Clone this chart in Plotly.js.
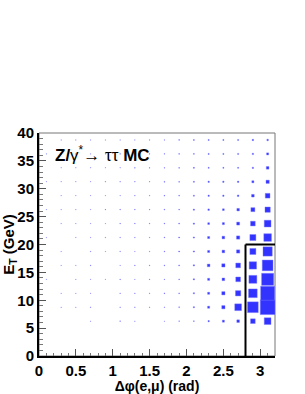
<!DOCTYPE html>
<html><head><meta charset="utf-8">
<script src="https://cdn.plot.ly/plotly-3.0.1.min.js"></script>
<style>html,body{margin:0;padding:0;background:#fff;}#chart{width:305px;height:394px;}</style>
</head><body><div id="chart"></div>
<script>
// Bin centres
const phiCenters = [0.1,0.3,0.5,0.7,0.9,1.1,1.3,1.5,1.7,1.9,2.1,2.3,2.5,2.7,2.9,3.1];
const etCenters = [1.25,3.75,6.25,8.75,11.25,13.75,16.25,18.75,21.25,23.75,26.25,28.75,31.25,33.75,36.25,38.75];
// Relative cell contents, one row per E_T bin (bottom to top), columns follow phiCenters
const counts = [
  [0,0,0,0,0,0,0,0,0,0,0,0,0,0,0,0],
  [0,0,0,0,0,0,0,0,0,0,0,0,0,0,0,0],
  [0,0,0,3,0,4,3,0,3,4,5,9,14,18,32,46],
  [0,3,3,4,0,4,4,4,4,5,8,14,22,46,73,100],
  [0,3,3,3,0,4,4,4,5,5,8,14,22,36,59,95],
  [3,0,3,3,3,4,3,4,4,5,8,14,18,32,54,82],
  [0,3,3,4,0,3,4,4,5,6,8,18,22,32,50,73],
  [0,3,0,4,3,4,3,4,5,6,8,14,18,22,41,63],
  [3,0,3,3,4,4,4,4,5,6,8,14,18,22,41,52],
  [0,3,3,3,3,4,4,4,5,6,8,12,14,20,32,46],
  [3,3,3,3,4,4,4,4,5,5,8,10,12,17,27,36],
  [0,3,3,3,3,3,4,4,5,5,7,9,9,10,18,32],
  [3,3,3,3,4,4,4,4,5,5,7,9,9,9,14,22],
  [0,3,3,3,3,3,4,4,4,5,7,7,7,7,9,18],
  [3,3,3,3,3,4,4,4,4,5,6,7,7,7,9,14],
  [0,3,3,3,3,3,3,4,4,5,6,7,7,7,9,10]
];
const xTicks = [0,0.5,1,1.5,2,2.5,3];
const xTickText = ['0','0.5','1','1.5','2','2.5','3'];
const yTicks = [0,5,10,15,20,25,30,35,40];
const yTickText = ['0','5','10','15','20','25','30','35','40'];
const cutPhi = 2.8, cutEt = 20;

const xs = [], ys = [], ss = [];
for (let j = 0; j < etCenters.length; j++) {
  for (let i = 0; i < phiCenters.length; i++) {
    const v = counts[j][i];
    if (v > 0) { xs.push(phiCenters[i]); ys.push(etCenters[j]); ss.push(v); }
  }
}

const font = {family: 'Liberation Sans, Arial, sans-serif', color: '#000'};
const trace = {
  type: 'scatter', mode: 'markers', x: xs, y: ys,
  marker: {symbol: 'square', size: ss, sizemode: 'diameter', sizeref: 6.8, sizemin: 0, opacity: 1,
           color: '#3333ff', line: {width: 0.6, color: 'rgba(120,120,255,0.7)'}},
  hoverinfo: 'skip'
};
const layout = {
  width: 305, height: 394,
  margin: {l: 39, r: 29.5, t: 133, b: 38},
  paper_bgcolor: '#fff', plot_bgcolor: '#fff',
  showlegend: false,
  font: font,
  xaxis: {
    range: [0, 3.2], tickvals: xTicks, ticktext: xTickText,
    ticks: 'inside', ticklen: 7, tickwidth: 1, tickcolor: '#555',
    minor: {ticks: 'inside', dtick: 0.1, ticklen: 3.5, tickwidth: 1, tickcolor: '#777', showgrid: false},
    showgrid: false, zeroline: false,
    showline: true, linecolor: '#000', linewidth: 2,
    tickfont: {family: font.family, size: 15, weight: 'bold', color: '#000'},
    title: {text: 'Δφ(e,μ) (rad)', font: {family: font.family, size: 14, weight: 'bold', color: '#000'}, standoff: 1}
  },
  yaxis: {
    range: [0, 40], tickvals: yTicks, ticktext: yTickText,
    ticks: 'inside', ticklen: 7, tickwidth: 1, tickcolor: '#555',
    minor: {ticks: 'inside', dtick: 1, ticklen: 3.5, tickwidth: 1, tickcolor: '#777', showgrid: false},
    showgrid: false, zeroline: false,
    showline: true, linecolor: '#000', linewidth: 2,
    tickfont: {family: font.family, size: 15, weight: 'bold', color: '#000'},
    title: {text: 'E<sub>T</sub> (GeV)', font: {family: font.family, size: 15, weight: 'bold', color: '#000'}, standoff: 3}
  },
  shapes: [
    {type: 'rect', xref: 'paper', yref: 'paper', x0: 0, x1: 1, y0: 0, y1: 1,
     line: {color: '#777', width: 1}, layer: 'below'},
    {type: 'line', xref: 'x', yref: 'y', x0: cutPhi, x1: cutPhi, y0: 0, y1: cutEt,
     line: {color: '#000', width: 2}},
    {type: 'line', xref: 'x', yref: 'y', x0: cutPhi, x1: 3.2, y0: cutEt, y1: cutEt,
     line: {color: '#000', width: 2}}
  ],
  annotations: [{
    xref: 'paper', yref: 'paper', x: 0.06, y: 0.905, xanchor: 'left', yanchor: 'middle',
    showarrow: false, text: '<b>Z/</b>γ<sup>*</sup>→ ττ <b>MC</b>',
    font: {family: font.family, size: 17, color: '#000'}
  }]
};
Plotly.newPlot('chart', [trace], layout, {displayModeBar: false, staticPlot: true});
</script></body></html>
